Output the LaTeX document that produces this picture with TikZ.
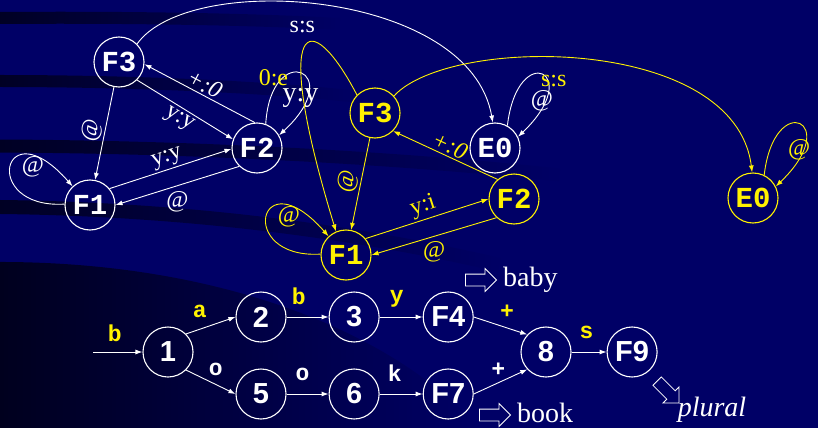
\documentclass[tikz,border=0pt]{standalone}
\usepackage{fontspec}
\setmainfont{Liberation Serif}
\setsansfont{Liberation Sans}
\setmonofont{Liberation Mono}
\usetikzlibrary{arrows.meta,positioning,shapes.arrows,fadings}
\definecolor{slidebg}{RGB}{0,0,102}
\newcommand\stfont{\ttfamily\bfseries\fontsize{29}{29}\selectfont}
\newcommand\nmfont{\sffamily\bfseries\fontsize{29}{29}\selectfont}
\newcommand\edfont{\fontsize{24}{24}\selectfont}
\newcommand\tlfont{\ttfamily\bfseries\fontsize{23}{23}\selectfont}
\newcommand\slfont{\sffamily\bfseries\fontsize{23}{23}\selectfont}
\newcommand\bgfont{\fontsize{28}{28}\selectfont}
\tikzset{
  wstate/.style={draw=white,circle,line width=1.1pt,minimum size=50pt,inner sep=0pt,text=white,font=\stfont},
  ystate/.style={wstate,draw=yellow,text=yellow},
  nstate/.style={wstate,font=\nmfont},
  arr/.style={-{Latex[length=7pt,width=5pt]},line width=.9pt},
  warr/.style={arr,white},
  yarr/.style={arr,yellow},
  lbl/.style={font=\edfont,inner sep=2pt},
  tlbl/.style={font=\tlfont,inner sep=2pt},
  slbl/.style={font=\slfont,inner sep=2pt},
  hollow/.style={single arrow,draw=white,line width=.8pt,minimum height=31pt,inner xsep=0pt,inner ysep=5.5pt,single arrow head extend=5.5pt},
  word/.style={font=\bgfont,text=white,inner sep=2pt},
  swoosh/.style={black,opacity=.65,path fading=east}
}

\begin{document}
\begin{tikzpicture}[x=1pt,y=1pt]
\useasboundingbox (0,0) rectangle (818,-428);
\fill[slidebg] (0,0) rectangle (818,-428);
% dark bands of the slide background
\begin{scope}
\clip (0,0) rectangle (818,-428);
\draw[swoosh,line width=12pt] (0,-18) .. controls (120,-17) and (250,-19) .. (340,-24);
\draw[swoosh,line width=12pt] (0,-81) .. controls (120,-81) and (260,-86) .. (360,-97);
\draw[swoosh,line width=13pt] (0,-146) .. controls (200,-147) and (400,-158) .. (560,-175);
\draw[swoosh,line width=14pt] (0,-207) .. controls (180,-209) and (350,-230) .. (500,-265);
\fill[swoosh,opacity=.7] (0,-262) .. controls (200,-262) and (380,-320) .. (480,-428) -- (0,-428) -- cycle;
\end{scope}

% white transducer
\node[wstate] (wF3) at (119,-62) {F3};
\node[wstate] (wF2) at (257,-148) {F2};
\node[wstate] (wF1) at (90,-205) {F1};
\node[wstate] (wE0) at (495,-148) {E0};
\draw[warr] (wF3) -- node[lbl,sloped,above] {@} (wF1);
\draw[warr] (wF2.95) -- node[lbl,sloped,above,font=\edfont\itshape] {+:0} (wF3.-5);
\draw[warr] (wF3.-45) -- node[lbl,sloped,below=1pt] {y:y} (wF2.160);
\draw[warr] (wF1.40) -- node[lbl,sloped,above] {y:y} (wF2.182);
\draw[warr] (wF2.226) -- node[lbl,below=3pt] {@} (wF1.0);
\draw[warr] (wF1.178) .. controls +(-85,-5) and +(-70,80) .. (wF1.133) node[lbl,pos=.5,right=9pt] {@};
\draw[warr] (wF2.70) .. controls +(5,85) and +(70,65) .. (wF2.30) node[lbl,pos=.5,below=13pt,font=\fontsize{28}{28}\selectfont] {y:y};
\draw[warr] (wF3.45) .. controls (190,30) and (470,10) .. (wE0.95) node[lbl,pos=.45,below=16pt] {s:s};
\draw[warr] (wE0.61) .. controls +(10,86) and +(68,65) .. (wE0.26) node[lbl,pos=.5,below=13pt] {@};

% yellow transducer
\node[ystate] (yF3) at (375,-113) {F3};
\node[ystate] (yF2) at (514,-199) {F2};
\node[ystate] (yF1) at (346,-255) {F1};
\node[ystate] (yE0) at (753,-198) {E0};
\draw[yarr] (yF3) -- node[lbl,sloped,above] {@} (yF1);
\draw[yarr] (yF3.135) .. controls (310,-5) and (270,-15) .. (yF1.113) node[lbl,pos=.66,left=11pt] {0:e};
\draw[yarr] (yF2.130) -- node[lbl,sloped,above,font=\edfont\itshape] {+:0} (yF3.-45);
\draw[yarr] (yF1.40) -- node[lbl,sloped,above] {y:i} (yF2.180);
\draw[yarr] (yF2.227) -- node[lbl,below=3pt] {@} (yF1.0);
\draw[yarr] (yF1.178) .. controls +(-85,-5) and +(-70,80) .. (yF1.133) node[lbl,pos=.5,right=9pt] {@};
\draw[yarr] (yF3.42) .. controls (450,-35) and (735,-35) .. (yE0.92) node[lbl,pos=.43,below=16pt] {s:s};
\draw[yarr] (yE0.64) .. controls +(10,86) and +(68,65) .. (yE0.27) node[lbl,pos=.5,below=13pt] {@};

% automaton
\coordinate (start) at (93,-352);
\node[nstate] (n1) at (168,-352) {1};
\node[nstate] (n2) at (261,-317) {2};
\node[nstate,right=42pt of n2] (n3) {3};
\node[nstate,right=43pt of n3] (nF4) {F4};
\node[nstate] (n5) at (261,-394) {5};
\node[nstate,right=42pt of n5] (n6) {6};
\node[nstate,right=43pt of n6] (nF7) {F7};
\node[nstate] (n8) at (546,-352) {8};
\node[nstate,right=35pt of n8] (nF9) {F9};
\draw[warr] (start) -- node[tlbl,text=yellow,pos=.44,above=8pt] {b} (n1);
\draw[warr] (n1.45) -- node[tlbl,text=yellow,pos=.28,above=9pt] {a} (n2.west);
\draw[warr] (n2) -- node[tlbl,text=yellow,pos=.29,above=10pt] {b} (n3);
\draw[warr] (n3) -- node[tlbl,text=yellow,pos=.4,above=7pt] {y} (nF4);
\draw[warr] (n1.-45) -- node[tlbl,pos=.6,above=6pt] {o} (n5.west);
\draw[warr] (n5) -- node[tlbl,pos=.38,above=11pt] {o} (n6);
\draw[warr] (n6) -- node[tlbl,pos=.35,above=10pt] {k} (nF7);
\draw[warr] (nF4.east) -- node[slbl,text=yellow,pos=.62,above=7pt] {+} (n8.137);
\draw[warr] (nF7.east) -- node[slbl,pos=.46,above=4pt] {+} (n8.223);
\draw[warr] (n8) -- node[slbl,text=yellow,pos=.43,above=11pt] {s} (nF9);

\node[hollow] (babyarr) at (478,-280) {};
\node[word,right=4pt of babyarr] (baby) {baby};
\node[hollow] (bookarr) at (492,-415) {};
\node[word,right=4pt of bookarr,yshift=2pt] (book) {book};
\node[hollow,rotate=-45] (plurarr) at (666,-390) {};
\node[word,font=\bgfont\itshape] (plural) at (712,-410) {plural};
\end{tikzpicture}
\end{document}
